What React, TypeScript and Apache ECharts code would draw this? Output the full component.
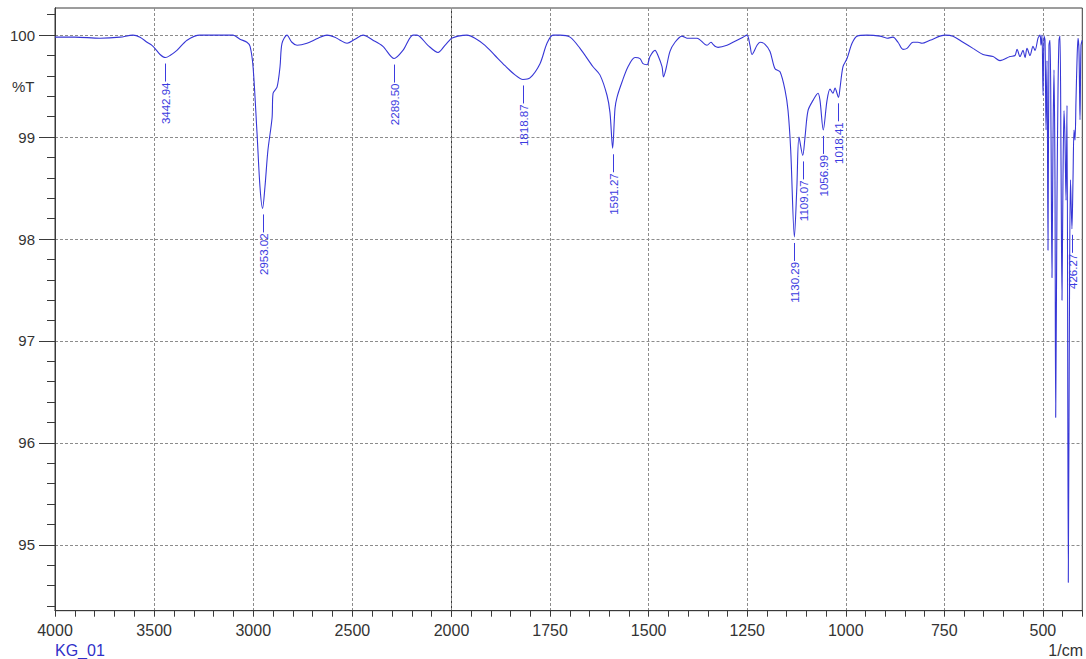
import React, { useEffect, useRef } from "react";
import * as echarts from "echarts";

// ---- Spectrum, high wavenumber part (4000 -> 2000 1/cm), %T ----
const wnHigh = [4000, 3899, 3773, 3672, 3607, 3571, 3536, 3511, 3496, 3470, 3442.94, 3420, 3385, 3334, 3269, 3102, 3067, 3032, 3016, 3001, 2981, 2966, 2953.02, 2941, 2926, 2905, 2900, 2880, 2865, 2855, 2830, 2805, 2779, 2729, 2673, 2628, 2588, 2562, 2527, 2487, 2446, 2396, 2346, 2289.5, 2245, 2194, 2174, 2119, 2068, 2033, 2000];
const tHigh = [99.98, 99.98, 99.97, 99.98, 100.0, 99.98, 99.93, 99.9, 99.87, 99.81, 99.78, 99.8, 99.85, 99.95, 100.0, 100.0, 99.96, 99.93, 99.89, 99.69, 99.04, 98.51, 98.3, 98.51, 98.87, 99.19, 99.43, 99.49, 99.69, 99.92, 100.0, 99.93, 99.9, 99.92, 99.97, 100.0, 99.98, 99.95, 99.92, 99.96, 100.0, 99.95, 99.89, 99.77, 99.85, 100.0, 100.0, 99.9, 99.83, 99.9, 99.97];

// ---- Spectrum, low wavenumber part (2000 -> 400 1/cm), %T ----
const wnLow = [2000, 1983.5, 1960.7, 1940.4, 1915, 1889.7, 1864.3, 1839, 1818.87, 1801, 1775.5, 1757.8, 1742.5, 1724.8, 1699.4, 1674, 1641, 1623.5, 1605.6, 1598, 1591.27, 1585.3, 1580.2, 1567.5, 1552.3, 1534.5, 1521.9, 1514.3, 1504, 1496.5, 1483.8, 1476.2, 1466, 1462.3, 1455.9, 1445.8, 1433.1, 1415.4, 1402.7, 1377.3, 1351.9, 1341.8, 1336.7, 1331.6, 1324, 1301.2, 1280.9, 1260.6, 1250.5, 1242.9, 1237.8, 1225, 1217.5, 1204.8, 1192.1, 1179.4, 1166.7, 1154, 1146.4, 1139.6, 1130.29, 1124, 1118.6, 1109.07, 1103.3, 1095.7, 1083, 1070.3, 1065.3, 1056.99, 1047.5, 1039.9, 1032.3, 1027.3, 1018.41, 1014.6, 1007, 996.8, 984.1, 971.4, 946, 913, 895.3, 880.2, 867.5, 854.8, 844.6, 829.4, 816.7, 806.6, 786.3, 748.3, 727.9, 702.6, 677.3, 651.9, 626.5, 608.8, 583.3, 570.6, 565.6, 558, 550.4, 545.3, 540.2, 532.6, 525, 519.9, 512.3, 507.2, 504.7, 502.2, 499.6, 497.1, 494.6, 492, 489.5, 487, 484.5, 481.9, 479.4, 476.9, 474.3, 471.8, 469.3, 467.5, 464.2, 461.6, 459.1, 456.6, 454, 451.5, 449, 446.4, 443.9, 441.3, 438.8, 435.5, 432.5, 430, 426.27, 423.6, 421, 418.5, 416, 413.4, 410.9, 408.4, 405.8, 403.3, 400];
const tLow = [99.97, 99.99, 100.0, 99.97, 99.9, 99.8, 99.7, 99.61, 99.565, 99.58, 99.72, 99.92, 100.0, 100.0, 99.98, 99.87, 99.69, 99.61, 99.41, 99.24, 98.89, 99.28, 99.39, 99.54, 99.69, 99.78, 99.77, 99.72, 99.71, 99.79, 99.85, 99.8, 99.69, 99.59, 99.67, 99.84, 99.93, 99.99, 99.97, 99.97, 99.9, 99.93, 99.91, 99.89, 99.88, 99.9, 99.94, 99.98, 100.0, 99.9, 99.81, 99.9, 99.93, 99.91, 99.84, 99.67, 99.64, 99.46, 99.26, 98.87, 98.02, 98.51, 99.0, 98.82, 99.0, 99.26, 99.36, 99.43, 99.36, 99.07, 99.36, 99.47, 99.43, 99.48, 99.39, 99.48, 99.69, 99.77, 99.92, 99.99, 100.0, 99.99, 99.97, 99.98, 99.93, 99.86, 99.87, 99.93, 99.93, 99.92, 99.95, 100.0, 99.99, 99.93, 99.87, 99.81, 99.79, 99.75, 99.79, 99.8, 99.86, 99.79, 99.85, 99.78, 99.87, 99.8, 99.89, 99.85, 99.97, 100.0, 99.9, 100.0, 99.41, 99.99, 99.95, 99.07, 99.75, 97.89, 99.9, 99.95, 99.07, 97.62, 98.97, 99.66, 98.58, 96.25, 98.38, 99.46, 99.95, 99.99, 98.77, 97.4, 98.58, 99.26, 98.97, 98.38, 99.31, 94.63, 97.4, 98.58, 98.1, 98.58, 99.07, 98.97, 99.36, 99.75, 99.97, 99.85, 99.17, 99.9, 99.95];

// ---- Peak annotations ----
const peakWnHigh = [3442.94, 2953.02, 2289.5];
const peakTHigh = [99.78, 98.3, 99.77];
const peakWnLow = [1818.87, 1591.27, 1130.29, 1109.07, 1056.99, 1018.41, 426.27];
const peakTLow = [99.565, 98.89, 98.02, 98.82, 99.07, 99.39, 98.1];

// ---- Tick labels ----
const xTicksHigh = [4000, 3500, 3000, 2500];
const xTicksLow = [2000, 1750, 1500, 1250, 1000, 750, 500];
const yTicks = [95, 96, 97, 98, 99, 100];
const yMinorTicks: number[] = [];
for (let i = 472; i <= 501; i++) yMinorTicks.push(i / 5);

const Y_MIN = 94.354;
const Y_MAX = 100.266;
const LINE_COLOR = "#3636d6";
const LABEL_COLOR = "#3b3be0";
const AXIS_COLOR = "#3a3a3a";
const FONT = '"Liberation Sans", Arial, sans-serif';
const GRID_LINE = { show: true, lineStyle: { color: "#8c8c8c", type: [3, 2] as any, width: 1 } };

function peakRenderer(labels: string[]) {
  return (params: any, api: any) => {
    const p = api.coord([api.value(0), api.value(1)]);
    const x = Math.round(p[0]) + 0.5;
    const y0 = p[1] + 6;
    const y1 = p[1] + 24;
    return {
      type: "group",
      children: [
        { type: "line", shape: { x1: x, y1: y0, x2: x, y2: y1 }, style: { stroke: LABEL_COLOR, lineWidth: 1 } },
        {
          type: "text",
          x: x,
          y: y1 + 1,
          rotation: Math.PI / 2,
          style: {
            text: labels[params.dataIndex],
            fill: LABEL_COLOR,
            font: '11.5px "Liberation Sans", Arial, sans-serif',
            align: "right",
            verticalAlign: "middle",
          },
        },
      ],
    };
  };
}

export default function App() {
  const ref = useRef<HTMLDivElement>(null);
  useEffect(() => {
    if (!ref.current) return;
    const chart = echarts.init(ref.current, undefined, { renderer: "svg" });
    const highData = wnHigh.map((w, i) => [w, tHigh[i]]);
    const lowData = wnLow.map((w, i) => [w, tLow[i]]);
    const pkHigh = peakWnHigh.map((w, i) => [w, peakTHigh[i]]);
    const pkLow = peakWnLow.map((w, i) => [w, peakTLow[i]]);
    const labelsHigh = peakWnHigh.map((w) => w.toFixed(2));
    const labelsLow = peakWnLow.map((w) => w.toFixed(2));

    const option: any = {
      animation: false,
      backgroundColor: "#ffffff",
      textStyle: { fontFamily: FONT },
      grid: [
        { left: 55, top: 8, width: 396.5, height: 602.7, show: true, borderColor: AXIS_COLOR, borderWidth: 1, backgroundColor: "transparent" },
        { left: 451.5, top: 8, width: 630.8, height: 602.7, show: true, borderColor: AXIS_COLOR, borderWidth: 1, backgroundColor: "transparent" },
      ],
      xAxis: [
        {
          gridIndex: 0,
          type: "value",
          min: 2000,
          max: 4000,
          inverse: true,
          interval: 500,
          position: "bottom",
          axisLine: { show: true, lineStyle: { color: AXIS_COLOR } },
          axisTick: { show: true, length: 6, inside: false, lineStyle: { color: AXIS_COLOR } },
          minorTick: { show: true, splitNumber: 5, length: 6, lineStyle: { color: AXIS_COLOR } },
          axisLabel: {
            color: "#333",
            fontSize: 16,
            margin: 12,
            fontFamily: FONT,
            formatter: (v: number) => (xTicksHigh.indexOf(v) >= 0 ? String(v) : ""),
          },
          splitLine: GRID_LINE,
        },
        {
          gridIndex: 1,
          type: "value",
          min: 400,
          max: 2000,
          inverse: true,
          interval: 50,
          position: "bottom",
          axisLine: { show: true, lineStyle: { color: AXIS_COLOR } },
          axisTick: { show: true, length: 6, inside: false, lineStyle: { color: AXIS_COLOR } },
          axisLabel: {
            color: "#333",
            fontSize: 16,
            margin: 12,
            fontFamily: FONT,
            formatter: (v: number) => (xTicksLow.indexOf(v) >= 0 ? String(v) : ""),
          },
          splitLine: { show: false },
        },
        {
          gridIndex: 1,
          type: "value",
          min: 400,
          max: 2000,
          inverse: true,
          position: "bottom",
          axisLine: { show: false },
          axisTick: { show: false, customValues: xTicksLow.filter((v) => v !== 2000) },
          axisLabel: { show: false },
          splitLine: GRID_LINE,
        },
      ],
      yAxis: [
        {
          gridIndex: 0,
          type: "value",
          min: Y_MIN,
          max: Y_MAX,
          position: "left",
          axisLine: { show: true, lineStyle: { color: AXIS_COLOR } },
          axisTick: { show: true, length: 16, inside: false, customValues: yTicks, lineStyle: { color: AXIS_COLOR } },
          axisLabel: { color: "#333", fontSize: 15, margin: 20, fontFamily: FONT, customValues: yTicks },
          splitLine: GRID_LINE,
        },
        {
          gridIndex: 0,
          type: "value",
          min: Y_MIN,
          max: Y_MAX,
          position: "left",
          offset: 0,
          axisLine: { show: true, lineStyle: { color: AXIS_COLOR } },
          axisTick: { show: true, length: 8, inside: false, customValues: yMinorTicks, lineStyle: { color: AXIS_COLOR } },
          axisLabel: { show: false },
          splitLine: { show: false },
        },
        {
          gridIndex: 1,
          type: "value",
          min: Y_MIN,
          max: Y_MAX,
          position: "left",
          axisLine: { show: false },
          axisTick: { show: false, customValues: yTicks },
          axisLabel: { show: false },
          splitLine: GRID_LINE,
        },
      ],
      graphic: [
        { type: "text", left: 12, top: 79, style: { text: "%T", fill: "#333", font: '15px "Liberation Sans", Arial, sans-serif' } },
        { type: "text", right: 3, top: 642, style: { text: "1/cm", fill: "#333", font: '16px "Liberation Sans", Arial, sans-serif' } },
        { type: "text", left: 55, top: 642, style: { text: "KG_01", fill: "#3030c8", font: '16px "Liberation Sans", Arial, sans-serif' } },
      ],
      series: [
        {
          type: "line",
          xAxisIndex: 0,
          yAxisIndex: 0,
          data: highData,
          showSymbol: false,
          symbol: "none",
          smooth: 0.3,
          lineStyle: { color: LINE_COLOR, width: 1.1 },
          z: 3,
        },
        {
          type: "line",
          xAxisIndex: 1,
          yAxisIndex: 2,
          data: lowData,
          showSymbol: false,
          symbol: "none",
          smooth: 0.3,
          lineStyle: { color: LINE_COLOR, width: 1.1 },
          z: 3,
        },
        {
          type: "custom",
          xAxisIndex: 0,
          yAxisIndex: 0,
          data: pkHigh,
          renderItem: peakRenderer(labelsHigh),
          z: 4,
        },
        {
          type: "custom",
          xAxisIndex: 1,
          yAxisIndex: 2,
          data: pkLow,
          renderItem: peakRenderer(labelsLow),
          z: 4,
        },
      ],
    };
    chart.setOption(option);
    return () => chart.dispose();
  }, []);
  return <div ref={ref} style={{ position: "fixed", left: 0, top: 0, width: 1086, height: 659 }} />;
}
